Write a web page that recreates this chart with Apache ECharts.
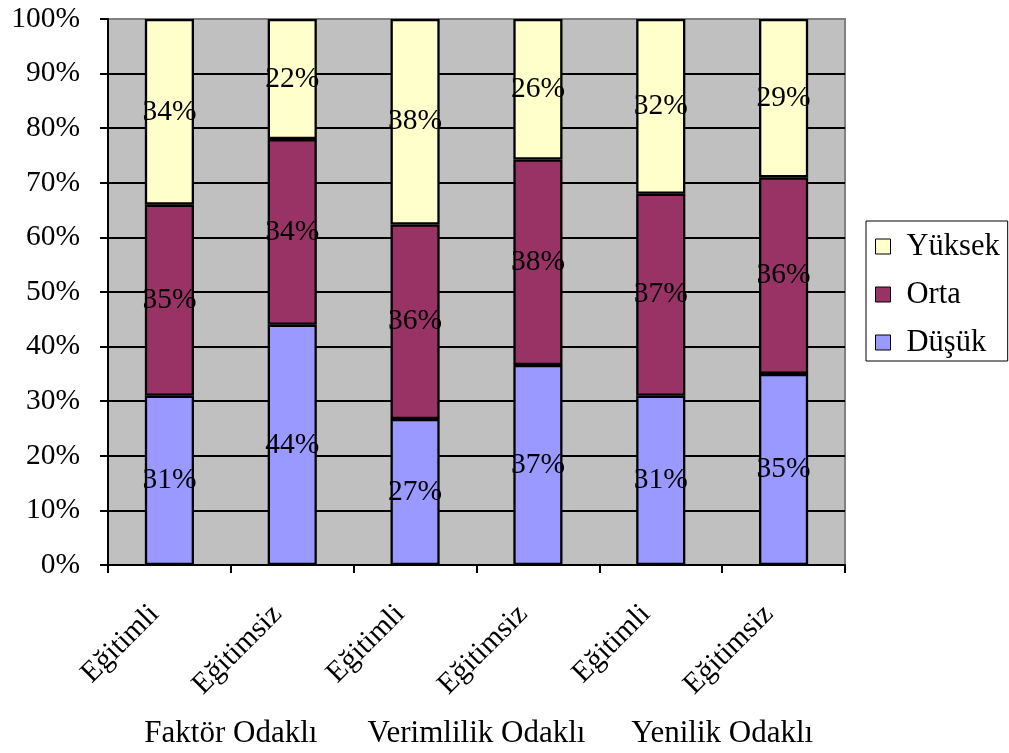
<!DOCTYPE html>
<html>
<head>
<meta charset="utf-8">
<title>Eğitim düzeyine göre dağılım</title>
<script src="https://cdn.jsdelivr.net/npm/echarts@6/dist/echarts.min.js"></script>
<style>
  html, body { margin: 0; padding: 0; background: #ffffff; }
  #chart { width: 1009px; height: 753px; }
</style>
</head>
<body>
<div id="chart"></div>
<script>
// Category labels under each bar and the group names beneath them
const categories = ['Eğitimli', 'Eğitimsiz', 'Eğitimli', 'Eğitimsiz', 'Eğitimli', 'Eğitimsiz'];
const groups = ['Faktör Odaklı', 'Verimlilik Odaklı', 'Yenilik Odaklı'];

// Percentages per level (each bar is scaled to a 100% total)
const dusuk  = [31, 44, 27, 37, 31, 35];
const orta   = [35, 34, 36, 38, 37, 36];
const yuksek = [34, 22, 38, 26, 32, 29];

const seriesNames = ['Düşük', 'Orta', 'Yüksek'];
const seriesColors = ['#9999FF', '#993366', '#FFFFCC'];

const FONT = '"Liberation Serif", "Times New Roman", serif';

const totals = categories.map((_, i) => dusuk[i] + orta[i] + yuksek[i]);
const toShare = arr => arr.map((v, i) => ({ value: v * 100 / totals[i], raw: v }));

// Gridlines are black; the 100% line doubles as the grey plot-area border
const gridLineColors = ['#000', '#000', '#000', '#000', '#000', '#000', '#000', '#000', '#000', '#000', '#808080'];

const chart = echarts.init(document.getElementById('chart'), null, { renderer: 'canvas' });

const makeSeries = (name, values, color) => ({
  name: name,
  type: 'bar',
  stack: 'total',
  barWidth: '40%',
  data: toShare(values),
  itemStyle: { color: color, borderColor: '#000', borderWidth: 2.3 },
  label: {
    show: true,
    position: 'inside',
    color: '#000',
    fontFamily: FONT,
    fontSize: 29.5,
    formatter: p => p.data.raw + '%'
  },
  emphasis: { disabled: true }
});

chart.setOption({
  animation: false,
  grid: {
    left: 108, right: 164, top: 19, bottom: 188,
    show: true,
    backgroundColor: '#C0C0C0',
    borderColor: '#808080',
    borderWidth: 2
  },
  legend: {
    orient: 'vertical',
    left: 866,
    top: 221,
    data: ['Yüksek', 'Orta', 'Düşük'],
    icon: 'rect',
    itemWidth: 15,
    itemHeight: 15,
    itemGap: 17,
    padding: [10, 8, 3, 9],
    borderColor: '#000',
    borderWidth: 1,
    backgroundColor: '#fff',
    itemStyle: { borderColor: '#000', borderWidth: 1 },
    textStyle: {
      fontFamily: FONT,
      fontSize: 30.5,
      lineHeight: 30,
      color: '#000',
      padding: [0, 0, 0, 11]
    }
  },
  xAxis: [
    {
      type: 'category',
      data: categories,
      position: 'bottom',
      axisLine: { show: true, lineStyle: { color: '#000', width: 2 } },
      axisTick: { show: true, length: 8, lineStyle: { color: '#000', width: 2 } },
      axisLabel: {
        rotate: 45,
        interval: 0,
        margin: 30,
        padding: [0, 21, 0, 0],
        color: '#000',
        fontFamily: FONT,
        fontSize: 29.5
      },
      splitLine: { show: false }
    },
    {
      type: 'category',
      data: groups,
      position: 'bottom',
      axisLine: { show: false },
      axisTick: { show: false },
      axisLabel: {
        interval: 0,
        margin: 153,
        color: '#000',
        fontFamily: FONT,
        fontSize: 31
      },
      splitLine: { show: false }
    }
  ],
  yAxis: {
    type: 'value',
    min: 0,
    max: 100,
    interval: 10,
    axisLine: { show: true, lineStyle: { color: '#000', width: 2 } },
    axisTick: { show: true, length: 8, lineStyle: { color: '#000', width: 2 } },
    axisLabel: {
      formatter: '{value}%',
      margin: 28,
      color: '#000',
      fontFamily: FONT,
      fontSize: 29.5
    },
    splitLine: { show: true, lineStyle: { color: gridLineColors, width: 2 } }
  },
  series: [
    makeSeries(seriesNames[0], dusuk, seriesColors[0]),
    makeSeries(seriesNames[1], orta, seriesColors[1]),
    makeSeries(seriesNames[2], yuksek, seriesColors[2])
  ]
});
</script>
</body>
</html>
